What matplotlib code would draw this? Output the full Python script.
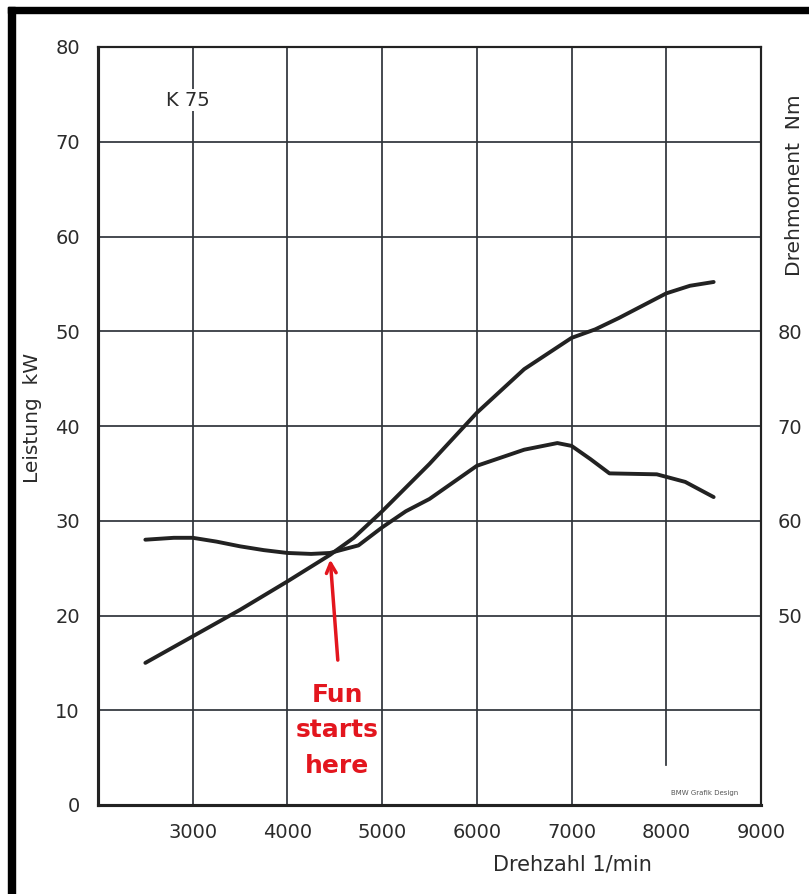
import numpy as np
import matplotlib.pyplot as plt
from matplotlib.patches import Rectangle

# ------------------------------------------------------------
# Data
# ------------------------------------------------------------
rpm_power = [2500, 3000, 3500, 4000, 4450, 4700, 5000, 5500, 6000,
             6500, 7000, 7250, 7500, 8000, 8250, 8500]
power_kw = [15.0, 17.8, 20.6, 23.6, 26.4, 28.2, 31.0, 36.0, 41.4,
            46.0, 49.3, 50.2, 51.4, 54.0, 54.8, 55.2]

rpm_torque = [2500, 2800, 3000, 3250, 3500, 3750, 4000, 4250, 4450, 4750,
              5000, 5250, 5500, 6000, 6500, 6850, 7000, 7200, 7400, 7900,
              8200, 8500]
torque_nm = [58.0, 58.2, 58.2, 57.8, 57.3, 56.9, 56.6, 56.5, 56.6, 57.4,
             59.3, 61.0, 62.3, 65.8, 67.5, 68.2, 67.9, 66.5, 65.0, 64.9,
             64.1, 62.5]

x_ticks = [3000, 4000, 5000, 6000, 7000, 8000, 9000]
kw_ticks = [0, 10, 20, 30, 40, 50, 60, 70, 80]
nm_ticks = [50, 60, 70, 80]

ink = "#222222"
txt = "#2b2b2b"
grid_col = "#2f343a"
red = "#e3161e"

fig = plt.figure(figsize=(8.09, 8.94), dpi=100)
fig.patch.set_facecolor("white")
ax = fig.add_axes([98 / 809, 1 - 805 / 894, 663 / 809, 758 / 894])

ax.set_xlim(2000, 9000)
ax.set_ylim(0, 80)

# grid (8000 line stops short to leave room for the credit)
for x in x_ticks:
    ymin = 0.053 if x == 8000 else 0
    ax.axvline(x, ymin=ymin, ymax=1, color=grid_col, lw=1.25, zorder=1)
for y in kw_ticks:
    ax.axhline(y, color=grid_col, lw=1.25, zorder=1)

ax.plot(rpm_power, power_kw, color=ink, lw=2.8, solid_capstyle="round",
        solid_joinstyle="round", zorder=4)

# torque on its own scale: Nm = kW + 30 on this sheet
ax2 = ax.twinx()
ax2.set_ylim(30, 110)
ax2.plot(rpm_torque, torque_nm, color=ink, lw=2.8, solid_capstyle="round",
         solid_joinstyle="round", zorder=4)

ax.set_xticks(x_ticks)
ax.set_yticks(kw_ticks)
ax2.set_yticks(nm_ticks)
ax.tick_params(length=0, labelsize=14, labelcolor=txt)
ax.tick_params(axis="x", pad=13)
ax.tick_params(axis="y", pad=13)
ax2.tick_params(length=0, labelsize=14, labelcolor=txt, pad=12)

for a in (ax, ax2):
    for side in ["left", "bottom"]:
        a.spines[side].set_linewidth(2.2)
        a.spines[side].set_color(ink)
    for side in ["top", "right"]:
        a.spines[side].set_linewidth(1.5)
        a.spines[side].set_color(ink)

# texts
ax.text(2720, 74.4, "K 75", fontsize=14, color=txt, va="center", ha="left",
        bbox=dict(facecolor="white", edgecolor="none", pad=1), zorder=3)
ax.text(8400, 1.3, "BMW Grafik Design", fontsize=5, color="#555555",
        ha="center", va="center", zorder=3)

fig.text(33 / 809, 1 - 418 / 894, "Leistung  kW", rotation=90, fontsize=14.5,
         color=txt, ha="center", va="center")
fig.text(795 / 809, 1 - 185 / 894, "Drehmoment  Nm", rotation=90, fontsize=14.5,
         color=txt, ha="center", va="center")
fig.text(572 / 809, 1 - 865 / 894, "Drehzahl 1/min", fontsize=15,
         color=txt, ha="center", va="center")

# red annotation
ax.annotate("", xy=(4450, 26.2), xytext=(4534, 15.0),
            arrowprops=dict(arrowstyle="->,head_length=0.7,head_width=0.35",
                            color=red, lw=2.5), zorder=5)
ax.text(4524, 7.9, "Fun\nstarts\nhere", fontsize=18, fontweight="bold",
        color=red, ha="center", va="center", linespacing=1.6, zorder=5)

# black frame on the left and top edge of the scan
fig.patches.append(Rectangle((8 / 809, 0), 7 / 809, 1 - 7 / 894,
                             transform=fig.transFigure, color="black"))
fig.patches.append(Rectangle((8 / 809, 1 - 13 / 894), 1, 6 / 894,
                             transform=fig.transFigure, color="black"))

plt.savefig("out.png", dpi=100)
plt.close()
